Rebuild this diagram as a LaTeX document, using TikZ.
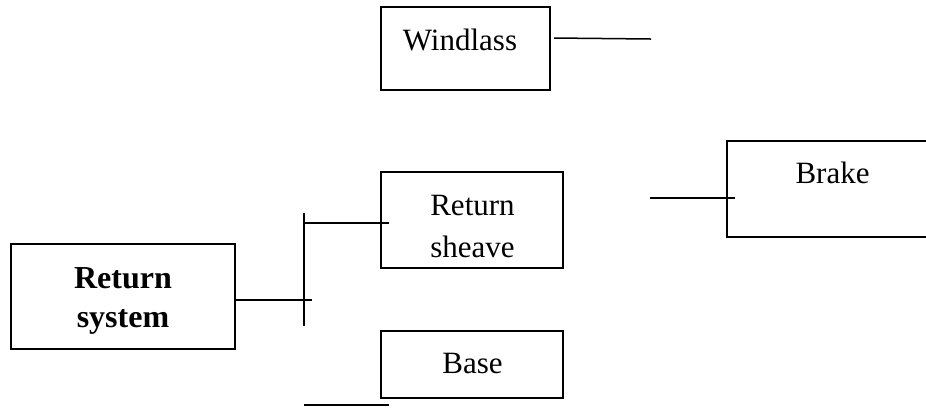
\documentclass[tikz,border=0pt]{standalone}
\usepackage{fontspec}
\setmainfont{Liberation Serif}
\usetikzlibrary{calc}
\begin{document}
\begin{tikzpicture}[x=0.5pt,y=-0.5pt,
  box/.style={draw,line width=0.75pt,inner sep=0pt},
  wire/.style={line width=0.75pt},
  txt/.style={inner sep=0pt,anchor=base,font=\fontsize{15.5}{21}\selectfont},
  boldtxt/.style={inner sep=0pt,anchor=base,font=\fontsize{16}{19.5}\selectfont\bfseries}]
\useasboundingbox (0,0) rectangle (926,409);
\clip (0,0) rectangle (926,409);
% boxes
\node[box,minimum width=84.5pt,minimum height=41.5pt] (windlass) at (465.5,48.5) {};
\node[box,minimum width=112pt,minimum height=52.5pt] (retsys) at (123,296.5) {};
\node[box,minimum width=91pt,minimum height=48pt] (sheave) at (472,220) {};
\node[box,minimum width=91pt,minimum height=33.5pt] (base) at (472,364.5) {};
\node[box,minimum width=110pt,minimum height=48pt] (brake) at (837,189) {};
% texts
\node[txt] (tw) at (460,50) {Windlass};
\node[boldtxt] (ts1) at (123,288) {Return};
\node[boldtxt] (ts2) at (123,327) {system};
\node[txt] (th1) at (472.5,215) {Return};
\node[txt] (th2) at (472.5,257) {sheave};
\node[txt] (tb) at (472.5,373) {Base};
\node[txt] (tk) at (832.5,183) {Brake};
% connector points
\coordinate (wA) at (554,38);
\coordinate (wB) at (651,39);
\coordinate (busT) at (304,213);
\coordinate (busB) at (304,326);
\coordinate (rsE) at (312,300);
\coordinate (shL) at (304,223);
\coordinate (shR) at (389,223);
\coordinate (bL) at (304,405);
\coordinate (bR) at (389,405);
\coordinate (kL) at (650,198);
\coordinate (kR) at (735,198);
% connectors
\draw[wire] (wA) -- (wB);
\draw[wire] (retsys.east |- rsE) -- (rsE);
\draw[wire] (busT) -- (busB);
\draw[wire] (shL) -- (shR);
\draw[wire] (bL) -- (bR);
\draw[wire] (kL) -- (kR);
\end{tikzpicture}
\end{document}
